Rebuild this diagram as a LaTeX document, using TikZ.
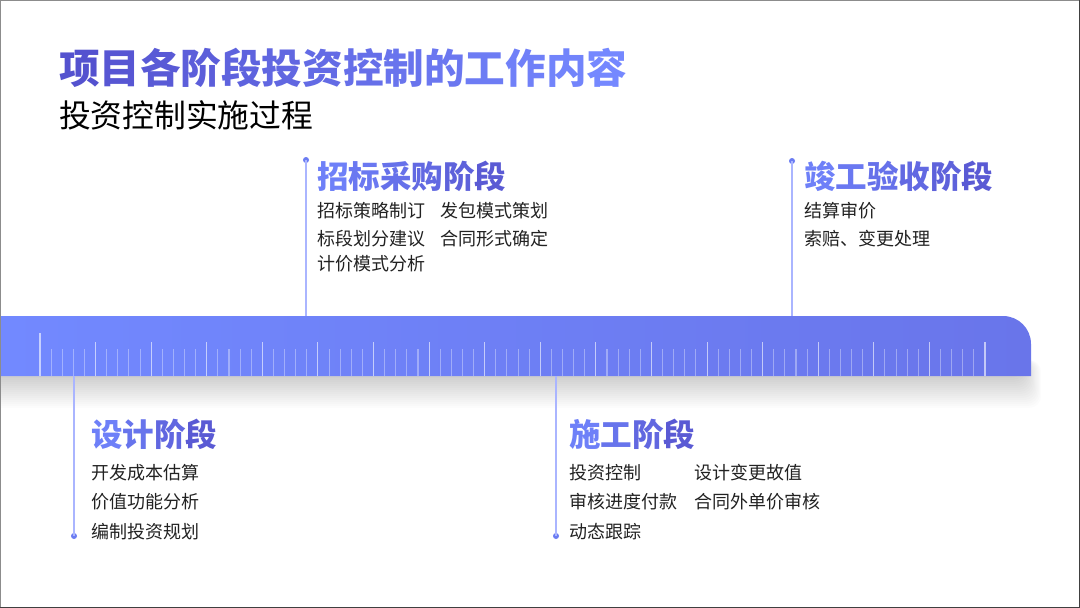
\documentclass[tikz,border=0pt]{standalone}
\usepackage{fontspec}
\newfontfamily\cjk{Noto Sans CJK SC}
\definecolor{tl}{HTML}{5452CF}
\definecolor{tr}{HTML}{7588FF}
\definecolor{hl}{HTML}{6E80F8}
\definecolor{hr}{HTML}{5A5AD4}
\definecolor{bandl}{HTML}{7289FF}
\definecolor{bandr}{HTML}{6975EA}
\definecolor{connc}{HTML}{AAB5FF}
\definecolor{dotc}{HTML}{6B7CF2}
\definecolor{itemc}{HTML}{222222}
\newcommand\tg[2]{\textcolor{tr!#1!tl}{#2}}
\newcommand\hg[2]{\textcolor{hr!#1!hl}{#2}}
\tikzset{
  txt/.style={anchor=west,inner sep=0pt,outer sep=0pt,font=\cjk},
  titletxt/.style={txt,font=\cjk\bfseries\fontsize{40.6}{44}\selectfont},
  subtxt/.style={txt,text=black,font=\cjk\fontsize{31.8}{35}\selectfont},
  headtxt/.style={txt,font=\cjk\bfseries\fontsize{31.5}{35}\selectfont},
  itemtxt/.style={txt,text=itemc,font=\cjk\fontsize{18}{22}\selectfont},
  dotnode/.style={circle,fill=dotc,inner sep=0pt,minimum size=6pt},
  conn/.style={draw=connc,line width=1.3pt},
  tickline/.style={draw=white,line width=1.1pt}
}
\begin{document}
\begin{tikzpicture}[x=1pt,y=-1pt]
% canvas
\fill[white] (0,0) rectangle (1080,608);
\useasboundingbox (0,0) rectangle (1080,608);
% shadow under band
\foreach \i in {1,...,16}{
  \fill[black,opacity=0.011,rounded corners=12pt] (-20,360) rectangle (1022+\i*1.2,376+\i*2);
}
% band
\shade[left color=bandl,right color=bandr]
  (0,316) -- (1003,316) .. controls (1018.5,316) and (1031,328.5) .. (1031,344)
  -- (1031,376) -- (0,376) -- cycle;
\coordinate (bandtop1) at (306,316);
\coordinate (bandtop2) at (792,316);
\coordinate (bandbot1) at (74,376);
\coordinate (bandbot2) at (556,376);
% ticks
\foreach \i in {0,...,85}{
  \pgfmathsetmacro{\xx}{40+\i*11.1176}
  \pgfmathtruncatemacro{\mm}{mod(\i,5)}
  \ifnum\i=0
    \draw[tickline,opacity=0.6] (\xx,333) -- (\xx,376);
  \else\ifnum\mm=0
    \draw[tickline,opacity=0.6] (\xx,342) -- (\xx,376);
  \else
    \draw[tickline,opacity=0.35] (\xx,349) -- (\xx,376);
  \fi\fi
}
% title
\node[titletxt] (title) at (59,68) {\tg{0}{项}\tg{8}{目}\tg{15}{各}\tg{23}{阶}\tg{31}{段}\tg{38}{投}\tg{46}{资}\tg{54}{控}\tg{62}{制}\tg{69}{的}\tg{77}{工}\tg{85}{作}\tg{92}{内}\tg{100}{容}};
\node[subtxt] (subtitle) at (59,115) {投资控制实施过程};
% stage 1: 招标采购
\node[dotnode] (dot1) at (306,160) {};
\draw[conn] (dot1.center) -- (bandtop1);
\node[headtxt] (h1) at (317,176) {\hg{0}{招}\hg{20}{标}\hg{40}{采}\hg{60}{购}\hg{80}{阶}\hg{100}{段}};
\node[itemtxt] (a1) at (317,211) {招标策略制订};
\node[itemtxt] (a2) at (440,211) {发包模式策划};
\node[itemtxt] (a3) at (317,239) {标段划分建议};
\node[itemtxt] (a4) at (440,239) {合同形式确定};
\node[itemtxt] (a5) at (317,264) {计价模式分析};
% stage 2: 竣工验收
\node[dotnode] (dot2) at (792,161) {};
\draw[conn] (dot2.center) -- (bandtop2);
\node[headtxt] (h2) at (804,176) {\hg{0}{竣}\hg{20}{工}\hg{40}{验}\hg{60}{收}\hg{80}{阶}\hg{100}{段}};
\node[itemtxt] (b1) at (804,211) {结算审价};
\node[itemtxt] (b2) at (804,239) {索赔、变更处理};
% stage 3: 设计
\node[dotnode] (dot3) at (74,536) {};
\draw[conn] (bandbot1) -- (dot3.center);
\node[headtxt] (h3) at (91,434) {\hg{0}{设}\hg{33}{计}\hg{67}{阶}\hg{100}{段}};
\node[itemtxt] (c1) at (91,473) {开发成本估算};
\node[itemtxt] (c2) at (91,502) {价值功能分析};
\node[itemtxt] (c3) at (91,532) {编制投资规划};
% stage 4: 施工
\node[dotnode] (dot4) at (556,536) {};
\draw[conn] (bandbot2) -- (dot4.center);
\node[headtxt] (h4) at (569,434) {\hg{0}{施}\hg{33}{工}\hg{67}{阶}\hg{100}{段}};
\node[itemtxt] (e1) at (569,473) {投资控制};
\node[itemtxt] (e2) at (694,473) {设计变更故值};
\node[itemtxt] (e3) at (569,502) {审核进度付款};
\node[itemtxt] (e4) at (694,502) {合同外单价审核};
\node[itemtxt] (e5) at (569,532) {动态跟踪};
% frame
\draw[black!45,line width=1pt] (0.5,0.5) rectangle (1079.5,607.5);
\draw[black!75,line width=1.5pt] (1079.25,0) -- (1079.25,608);
\draw[black!75,line width=1.5pt] (0,607.25) -- (1080,607.25);
\end{tikzpicture}
\end{document}
